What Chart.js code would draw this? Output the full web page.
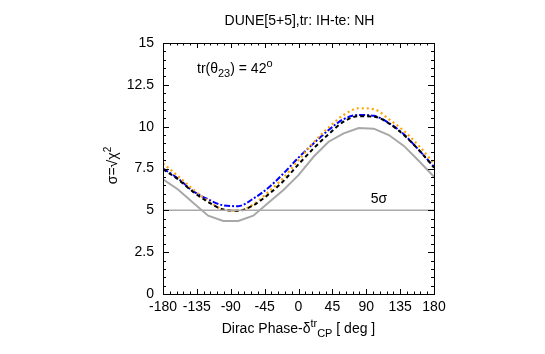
<!DOCTYPE html>
<html>
<head>
<meta charset="utf-8">
<script src="https://cdn.jsdelivr.net/npm/chart.js@4"></script>
<style>
  body { margin: 0; background: #fff; }
  #wrap { width: 545px; height: 354px; }
</style>
</head>
<body>
<div id="wrap"><canvas id="chart" width="545" height="354"></canvas></div>
<script>
// delta_CP grid (deg)
const deltaCP = [-180, -160, -140, -120, -100, -80, -60, -40, -20, 0, 20, 40, 60, 80, 100, 120, 140, 160, 180];

// sigma values
const graySolid = [6.86, 6.25, 5.45, 4.68, 4.36, 4.36, 4.68, 5.45, 6.22, 7.1, 8.2, 9.1, 9.6, 9.92, 9.88, 9.5, 8.85, 7.95, 7.01];
const blueDashDot = [7.5, 6.9, 6.15, 5.66, 5.3, 5.25, 5.7, 6.35, 7.2, 8.15, 9.0, 9.8, 10.45, 10.7, 10.65, 10.22, 9.54, 8.6, 7.6];
const blackDashed = [7.45, 6.85, 6.1, 5.5, 5.05, 4.98, 5.3, 5.95, 6.75, 7.75, 8.7, 9.55, 10.3, 10.62, 10.6, 10.2, 9.5, 8.6, 7.55];
const orangeDotted = [7.8, 7.05, 6.25, 5.55, 5.05, 4.98, 5.35, 6.1, 6.95, 8.0, 9.05, 9.95, 10.7, 11.1, 11.05, 10.45, 9.75, 8.85, 7.8];
const fiveSigma = [5, 5];

const xTicks = [-180, -135, -90, -45, 0, 45, 90, 135, 180];
const yTicks = [0, 2.5, 5, 7.5, 10, 12.5, 15];

const FONT = "'Liberation Sans', Arial, sans-serif";

function pts(ys) {
  return deltaCP.map((x, i) => ({ x: x, y: ys[i] }));
}

// draws text pieces with sub/superscripts
function richText(ctx, parts, x, y, align) {
  let total = 0;
  parts.forEach(p => {
    ctx.font = (p.size || 14) + 'px ' + FONT;
    p.w = ctx.measureText(p.t).width;
    total += p.w;
  });
  let cx = align === 'center' ? x - total / 2 : x;
  parts.forEach(p => {
    ctx.font = (p.size || 14) + 'px ' + FONT;
    ctx.fillText(p.t, cx, y + (p.dy || 0));
    cx += p.w;
  });
}

const framePlugin = {
  id: 'frame',
  afterDraw(chart) {
    const { ctx, chartArea: a, scales } = chart;
    const xs = scales.x, ys = scales.y;
    ctx.save();
    ctx.strokeStyle = '#000';
    ctx.lineWidth = 1;
    ctx.strokeRect(a.left + 0.5, a.top + 0.5, a.right - a.left, a.bottom - a.top);

    // inward ticks on all sides
    ctx.beginPath();
    for (let v = -180; v <= 180; v += 9) {
      const px = Math.round(xs.getPixelForValue(v)) + 0.5;
      const len = v % 45 === 0 ? 5 : 2.5;
      ctx.moveTo(px, a.bottom); ctx.lineTo(px, a.bottom - len);
      ctx.moveTo(px, a.top); ctx.lineTo(px, a.top + len);
    }
    for (let i = 0; i <= 30; i++) {
      const v = i * 0.5;
      const py = Math.round(ys.getPixelForValue(v)) + 0.5;
      const len = i % 5 === 0 ? 6 : 3;
      ctx.moveTo(a.left, py); ctx.lineTo(a.left + len, py);
      ctx.moveTo(a.right, py); ctx.lineTo(a.right - len, py);
    }
    ctx.stroke();

    ctx.fillStyle = '#000';
    ctx.textBaseline = 'alphabetic';
    ctx.textAlign = 'left';
    const cx = (a.left + a.right) / 2;

    // title
    richText(ctx, [{ t: 'DUNE[5+5],tr: IH-te: NH' }], cx + 1, 25, 'center');

    // annotation
    richText(ctx, [
      { t: 'tr(θ' },
      { t: '23', size: 11, dy: 4 },
      { t: ') = 42' },
      { t: 'o', size: 11, dy: -6 }
    ], a.left + 34, 73, 'left');

    // 5 sigma label
    richText(ctx, [{ t: '5σ' }], xs.getPixelForValue(107), ys.getPixelForValue(5) - 7, 'center');

    // x axis title
    richText(ctx, [
      { t: 'Dirac Phase-δ' },
      { t: 'tr', size: 11, dy: -6 },
      { t: 'CP', size: 11, dy: 4 },
      { t: ' [ deg ]' }
    ], cx, 333, 'center');

    // y axis title
    ctx.translate(117, (a.top + a.bottom) / 2 - 3);
    ctx.rotate(-Math.PI / 2);
    richText(ctx, [
      { t: 'σ=√χ' },
      { t: '2', size: 10, dy: -6 }
    ], 0, 0, 'center');
    ctx.restore();
  }
};

new Chart(document.getElementById('chart'), {
  type: 'line',
  data: {
    datasets: [
      {
        label: '5 sigma',
        data: [{ x: -180, y: fiveSigma[0] }, { x: 180, y: fiveSigma[1] }],
        borderColor: '#aaaaaa',
        borderWidth: 1.5,
        pointRadius: 0
      },
      {
        label: 'gray',
        data: pts(graySolid),
        borderColor: '#a8a8a8',
        borderWidth: 2,
        pointRadius: 0
      },
      {
        label: 'black',
        data: pts(blackDashed),
        borderColor: '#000000',
        borderWidth: 2,
        borderDash: [4, 3],
        pointRadius: 0,
        cubicInterpolationMode: 'monotone'
      },
      {
        label: 'orange',
        data: pts(orangeDotted),
        borderColor: '#ffa500',
        borderWidth: 2.2,
        borderDash: [2, 3],
        pointRadius: 0,
        cubicInterpolationMode: 'monotone'
      },
      {
        label: 'blue',
        data: pts(blueDashDot),
        borderColor: '#0000ff',
        borderWidth: 2,
        borderDash: [6, 2, 2, 2],
        pointRadius: 0,
        cubicInterpolationMode: 'monotone'
      }
    ]
  },
  options: {
    responsive: false,
    animation: false,
    layout: { padding: { left: 123, right: 111, top: 43, bottom: 30 } },
    plugins: {
      legend: { display: false },
      title: { display: false },
      tooltip: { enabled: false }
    },
    scales: {
      x: {
        type: 'linear',
        min: -180,
        max: 180,
        afterFit: s => { s.height = 30; },
        afterBuildTicks: s => { s.ticks = xTicks.map(v => ({ value: v })); },
        grid: { display: false, drawTicks: false },
        border: { display: false },
        ticks: { color: '#000', padding: 5, maxRotation: 0, autoSkip: false, font: { size: 14, family: FONT } }
      },
      y: {
        type: 'linear',
        min: 0,
        max: 15,
        afterFit: s => { s.width = 40; },
        afterBuildTicks: s => { s.ticks = yTicks.map(v => ({ value: v })); },
        grid: { display: false, drawTicks: false },
        border: { display: false },
        ticks: { color: '#000', padding: 9, font: { size: 14, family: FONT } }
      }
    }
  },
  plugins: [framePlugin]
});
</script>
</body>
</html>
